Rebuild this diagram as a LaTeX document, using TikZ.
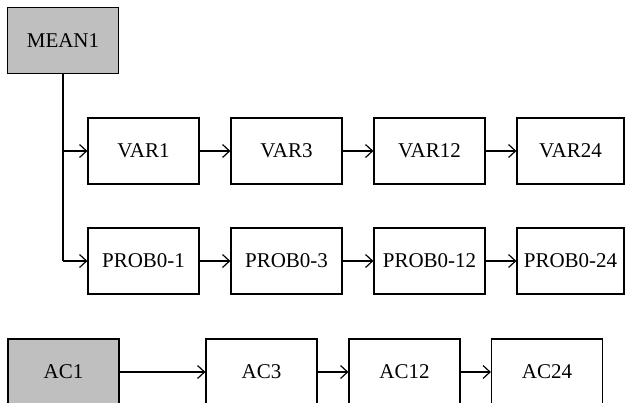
\documentclass[tikz,border=0pt]{standalone}
\usepackage{fontspec}
\setmainfont{Liberation Serif}
\usepackage{tikz}
\usetikzlibrary{arrows.meta}

\begin{document}
\begin{tikzpicture}[x=0.5pt,y=-0.5pt,
	box/.style={draw, semithick, minimum width=55.5pt, minimum height=33pt, inner sep=0pt, font=\fontsize{10.5}{12}\selectfont},
	root/.style={box, fill=black!25},
	pile/.style={semithick, -{Straight Barb[length=3.5pt,width=6.5pt]}}]

	\useasboundingbox (0,0) rectangle (625,402);

	% Roots
	\node [root] (mean1) at (63,40.5) {MEAN1};
	\node [root] (ac1) at (63.5,372) {AC1};

	% Variance row
	\node [box] (var1) at (143.5,151) {VAR1};
	\node [box] (var3) at (286.5,151) {VAR3};
	\node [box] (var12) at (429.5,151) {VAR12};
	\node [box, minimum width=53.5pt] (var24) at (570.5,151) {VAR24};

	% Probability row
	\node [box] (prob1) at (143.5,261) {PROB0-1};
	\node [box] (prob3) at (286.5,261) {PROB0-3};
	\node [box] (prob12) at (429.5,261) {PROB0-12};
	\node [box, minimum width=53.5pt] (prob24) at (570.5,261) {PROB0-24};

	% Autocorrelation row
	\node [box] (ac3) at (261.5,372) {AC3};
	\node [box] (ac12) at (404.5,372) {AC12};
	\node [box] (ac24) at (547,372) {AC24};

	% Trunk
	\draw [semithick] (mean1.south) -- (mean1.south |- prob1.west);
	\draw [pile] (mean1.south |- var1.west) -- (var1.west);
	\draw [pile] (mean1.south |- prob1.west) -- (prob1.west);

	% Chains
	\draw [pile] (var1) -- (var3);
	\draw [pile] (var3) -- (var12);
	\draw [pile] (var12) -- (var24);
	\draw [pile] (prob1) -- (prob3);
	\draw [pile] (prob3) -- (prob12);
	\draw [pile] (prob12) -- (prob24);
	\draw [pile] (ac1) -- (ac3);
	\draw [pile] (ac3) -- (ac12);
	\draw [pile] (ac12) -- (ac24);

\end{tikzpicture}
\end{document}
